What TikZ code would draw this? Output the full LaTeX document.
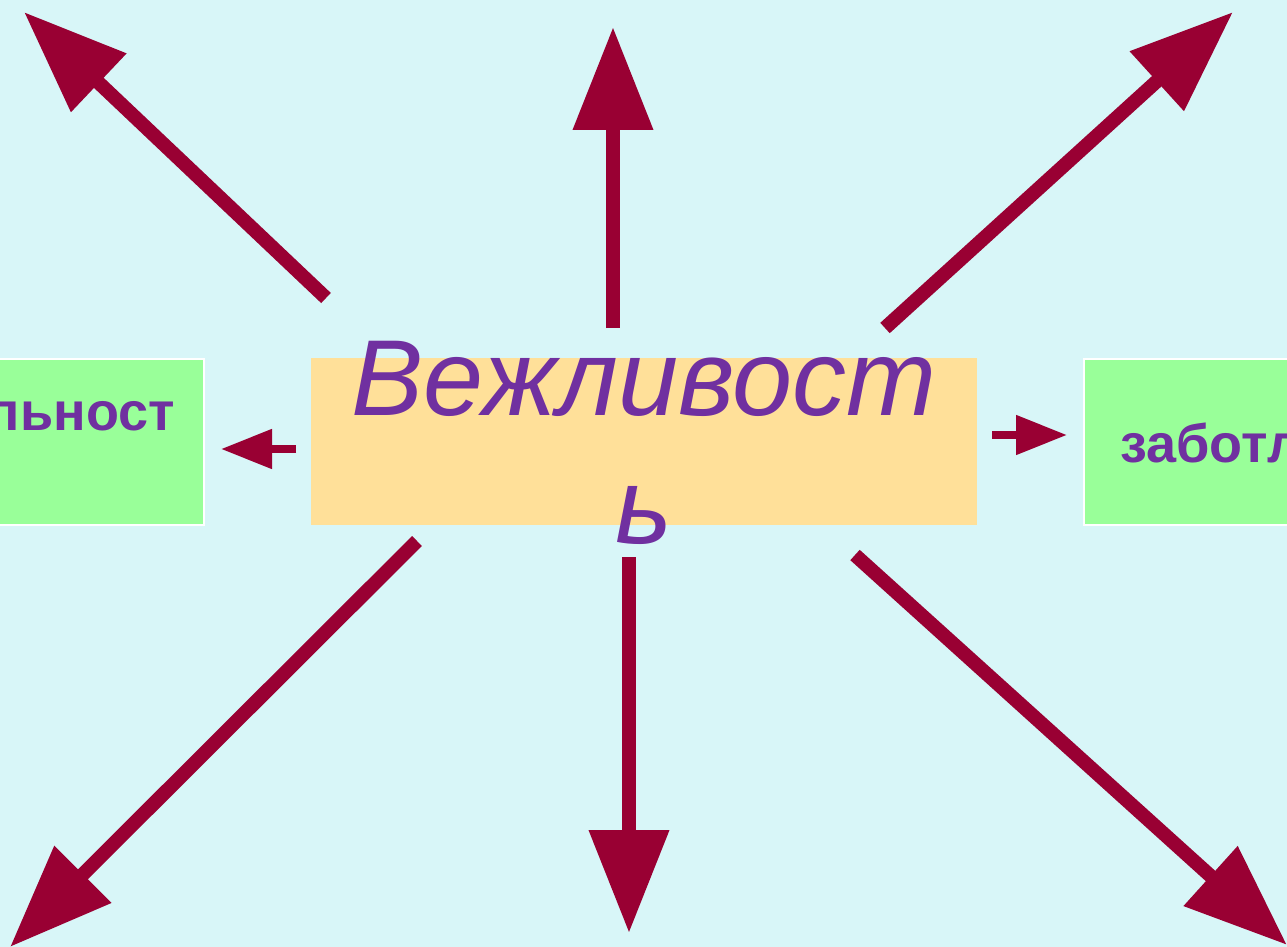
\documentclass[tikz,border=0pt]{standalone}
\usepackage{fontspec}
\setmainfont{Liberation Sans}
\usepackage{xcolor}
\usepackage{tikz}
\usetikzlibrary{shapes,arrows.meta,positioning}

\definecolor{bgcyan}{HTML}{D8F6F8}
\definecolor{boxorange}{HTML}{FFE099}
\definecolor{boxgreen}{HTML}{99FF99}
\definecolor{wordpurple}{HTML}{7030A0}
\definecolor{arrowred}{HTML}{990033}

\begin{document}
\begin{tikzpicture}[x=1pt, y=-1pt]
    % Define styles
    \tikzstyle{mainbox} = [rectangle, minimum width=666pt, minimum height=167pt, inner sep=0pt, fill=boxorange]
    \tikzstyle{sidebox} = [rectangle, minimum width=214pt, minimum height=166pt, inner sep=0pt, draw=white, line width=2pt, fill=boxgreen]
    \tikzstyle{bigword} = [font=\fontsize{108}{128}\selectfont\itshape, text=wordpurple, align=center, inner sep=0pt]
    \tikzstyle{sideword} = [font=\fontsize{54}{60}\selectfont\bfseries, text=wordpurple, inner sep=0pt]
    \tikzstyle{bigarrow} = [draw=arrowred, line width=14pt, -{Triangle[length=103pt, width=77pt]}]
    \tikzstyle{smallarrow} = [draw=arrowred, line width=8pt, -{Triangle[length=51pt, width=38pt]}]

    % Background
    \fill[bgcyan] (0,0) rectangle (1287,947);
    \useasboundingbox (0,0) rectangle (1287,947);

    % Nodes
    \node[mainbox] (vz) at (644,441.5) {};
    \node[bigword] (vztext) at (644,443) {Вежливост\\ь};
    \node[sidebox] (leftbox) at (97,442) {};
    \node[sideword, anchor=base east] (lefttext) at (175,430) {льност};
    \node[sidebox] (rightbox) at (1191,442) {};
    \node[sideword, anchor=base west] (righttext) at (1120,462) {заботл};

    % Arrow ends
    \coordinate (ul tail) at (326,298);
    \coordinate (ul tip) at (24,12);
    \coordinate (up tail) at (613,328);
    \coordinate (up tip) at (613,27);
    \coordinate (ur tail) at (885,328);
    \coordinate (ur tip) at (1233,12);
    \coordinate (lt tail) at (296,449);
    \coordinate (lt tip) at (221,449);
    \coordinate (rt tail) at (992,435);
    \coordinate (rt tip) at (1067,435);
    \coordinate (ll tail) at (417,541);
    \coordinate (ll tip) at (10,947);
    \coordinate (dn tail) at (629,557);
    \coordinate (dn tip) at (629,933);
    \coordinate (lr tail) at (855,555);
    \coordinate (lr tip) at (1287,945);

    % Connections
    \draw[bigarrow] (ul tail) -- (ul tip);
    \draw[bigarrow] (up tail) -- (up tip);
    \draw[bigarrow] (ur tail) -- (ur tip);
    \draw[smallarrow] (lt tail) -- (lt tip);
    \draw[smallarrow] (rt tail) -- (rt tip);
    \draw[bigarrow] (ll tail) -- (ll tip);
    \draw[bigarrow] (dn tail) -- (dn tip);
    \draw[bigarrow] (lr tail) -- (lr tip);
\end{tikzpicture}
\end{document}
